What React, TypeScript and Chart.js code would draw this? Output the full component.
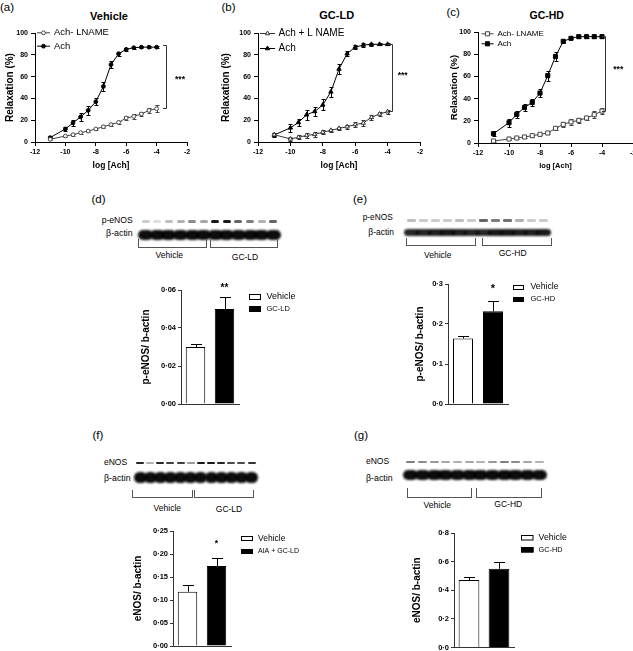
import React, { useEffect, useRef } from "react";
import { Chart, registerables } from "chart.js";
import { drawPoint } from "chart.js/helpers";

Chart.register(...registerables);

const FONT = "'Liberation Sans', Arial, Helvetica, sans-serif";

// ---------- concentration-response data (a)-(c) ----------
const logAch = [-11, -10, -9.5, -9, -8.5, -8, -7.5, -7, -6.5, -6, -5.5, -5, -4.5, -4];
const xTicks = [-12, -10, -8, -6, -4, -2];
const relaxTicks = [0, 20, 40, 60, 80, 100];

// (a) Vehicle
const vehAch = [4, 12, 17.5, 23, 29, 37, 51, 71, 81, 85, 86.5, 87, 87, 87];
const vehAchSem = [1, 2, 2.7, 3.4, 3.8, 3.5, 4, 3, 2, 1.5, 1, 1, 1, 1];
const vehLname = [2.5, 5.5, 6.7, 8.6, 10, 12, 14, 16, 18, 22, 23.5, 25.7, 29, 30.5];
const vehLnameSem = [1, 1, 1, 1, 1, 1, 1.5, 1.5, 1.5, 1.5, 2, 2, 2.5, 3];

// (b) GC-LD
const ldAch = [6.4, 13, 18, 25, 28, 34, 46, 67, 81, 87, 89, 89.6, 89.6, 89.6];
const ldAchSem = [2, 3.5, 3.5, 4.5, 4.5, 5, 4.3, 4.5, 2.5, 2, 1.5, 1.5, 1, 1];
const ldLname = [6.7, 2.8, 4.3, 6, 7, 9, 10.7, 12.5, 14, 16, 17.4, 22.6, 25.7, 27.8];
const ldLnameSem = [1.5, 2, 2, 2.5, 2, 2, 1.5, 1.5, 2, 2.5, 2.5, 2, 2, 2];

// (c) GC-HD
const hdAch = [8.4, 18.3, 25.8, 32, 36.6, 45, 60.7, 78, 91.6, 94.3, 95.8, 95.8, 95.8, 95.8];
const hdAchSem = [2.4, 3.5, 3.3, 3, 3.4, 3.8, 4.5, 3.8, 1.5, 1, 1, 1, 1, 1];
const hdLname = [1.8, 3.6, 4.5, 5.4, 6.6, 7.8, 9, 13.2, 16.8, 19, 20.4, 22.5, 25.5, 28.8];
const hdLnameSem = [1, 1, 1, 1, 1, 1, 1, 1.5, 2, 2.5, 2.5, 2, 3, 3];

// ---------- densitometry data (d)-(g) ----------
const groupsD = ["Vehicle", "GC-LD"];
const peNosLD = [0.03, 0.05];
const peNosLDSem = [0.0015, 0.0065];
const ticksD = [0, 0.02, 0.04, 0.06];

const groupsE = ["Vehicle", "GC-HD"];
const peNosHD = [0.164, 0.232];
const peNosHDSem = [0.007, 0.025];
const ticksE = [0, 0.1, 0.2, 0.3];

const groupsF = ["Vehicle", "AIA + GC-LD"];
const eNosLD = [0.118, 0.174];
const eNosLDSem = [0.014, 0.018];
const ticksF = [0, 0.05, 0.1, 0.15, 0.2, 0.25];

const groupsG = ["Vehicle", "GC-HD"];
const eNosHD = [0.471, 0.55];
const eNosHDSem = [0.021, 0.044];
const ticksG = [0, 0.2, 0.4, 0.6, 0.8];

// blot lane intensities (12 lanes each)
const blotDpEnos = [0.2, 0.12, 0.25, 0.3, 0.45, 0.35, 0.9, 0.9, 0.6, 0.5, 0.3, 0.6];
const blotEpEnos = [0.25, 0.2, 0.2, 0.2, 0.25, 0.2, 0.6, 0.5, 0.55, 0.3, 0.2, 0.2];
const blotFEnos = [0.85, 0.3, 0.85, 0.75, 0.75, 0.4, 0.9, 0.9, 0.85, 0.7, 0.7, 0.8];
const blotGEnos = [0.5, 0.45, 0.4, 0.35, 0.3, 0.35, 0.3, 0.4, 0.5, 0.45, 0.35, 0.3];
// β-actin lane intensities
const actinD = [0.95, 0.95, 0.95, 0.95, 0.95, 0.95, 0.95, 0.95, 0.95, 0.95, 0.95, 0.95];
const actinE = [0.85, 0.85, 0.88, 0.9, 0.88, 0.85, 0.85, 0.9, 0.9, 0.88, 0.88, 0.9];
const actinF = [0.95, 0.95, 0.95, 0.95, 0.95, 0.95, 0.95, 0.95, 0.95, 0.95, 0.95, 0.95];
const actinG = [0.95, 0.95, 0.95, 0.95, 0.95, 0.95, 0.95, 0.95, 0.95, 0.95, 0.95, 0.95];

const fmt = (v: number, d: number) => Number(v).toFixed(d).replace(".", "\u00B7");

// ---------- plugins ----------
function drawErrors(chart: any, after: boolean) {
  const { ctx } = chart;
  const ys = chart.scales.y;
  chart.data.datasets.forEach((ds: any, i: number) => {
    if (!ds.errors || !!ds.errAfter !== after) return;
    const meta = chart.getDatasetMeta(i);
    ctx.save();
    ctx.strokeStyle = ds.errColor || "#000";
    ctx.lineWidth = 1;
    meta.data.forEach((el: any, j: number) => {
      const raw = ds.data[j];
      const v = typeof raw === "number" ? raw : raw.y;
      const e = ds.errors[j];
      const x = Math.round(el.x) + 0.5;
      const yTop = Math.round(ys.getPixelForValue(v + e)) + 0.5;
      const yBot = ds.errUpOnly ? ys.getPixelForValue(v) : Math.round(ys.getPixelForValue(v - e)) + 0.5;
      const cap = ds.errCap ?? 4;
      ctx.beginPath();
      ctx.moveTo(x, yTop);
      ctx.lineTo(x, yBot);
      ctx.moveTo(x - cap / 2, yTop);
      ctx.lineTo(x + cap / 2, yTop);
      if (!ds.errUpOnly) {
        ctx.moveTo(x - cap / 2, yBot);
        ctx.lineTo(x + cap / 2, yBot);
      }
      ctx.stroke();
    });
    ctx.restore();
  });
}

const errPlugin = {
  id: "errBars",
  beforeDatasetsDraw(chart: any) {
    drawErrors(chart, false);
  },
  afterDatasetsDraw(chart: any) {
    drawErrors(chart, true);
  },
};

function makeLineLegend(L: any) {
  return {
    id: "lineLegend",
    afterDraw(chart: any) {
      const { ctx, chartArea } = chart;
      ctx.save();
      chart.data.datasets.forEach((ds: any, i: number) => {
        const x0 = chartArea.left + L.dx;
        const y = chartArea.top + L.dy + i * L.gap;
        ctx.strokeStyle = ds.borderColor;
        ctx.lineWidth = 1;
        ctx.beginPath();
        ctx.moveTo(x0, y + 0.5);
        ctx.lineTo(x0 + L.lineLen, y + 0.5);
        ctx.stroke();
        ctx.fillStyle = ds.pointBackgroundColor;
        ctx.strokeStyle = ds.pointBorderColor;
        drawPoint(ctx, { pointStyle: ds.pointStyle, radius: ds.pointRadius, rotation: 0, borderWidth: 1 } as any, x0 + L.lineLen / 2, y + 0.5);
        ctx.fillStyle = "#000";
        ctx.font = `${L.size}px ${FONT}`;
        ctx.textBaseline = "middle";
        ctx.textAlign = "left";
        ctx.fillText(ds.label, x0 + L.lineLen + L.textGap, y + 0.5);
      });
      ctx.restore();
    },
  };
}

function makeSig(S: any) {
  return {
    id: "sig",
    afterDraw(chart: any) {
      const { ctx } = chart;
      const xs = chart.scales.x;
      const ys = chart.scales.y;
      ctx.save();
      ctx.strokeStyle = "#333";
      ctx.lineWidth = 1;
      ctx.fillStyle = "#000";
      if (S.bracket) {
        const b = S.bracket;
        const bx = Math.round(xs.getPixelForValue(b.x)) + 0.5;
        const sx = xs.getPixelForValue(b.stubX);
        const yt = Math.round(ys.getPixelForValue(b.top)) + 0.5;
        const yb = Math.round(ys.getPixelForValue(b.bottom)) + 0.5;
        ctx.beginPath();
        ctx.moveTo(sx, yt);
        ctx.lineTo(bx, yt);
        ctx.lineTo(bx, yb);
        ctx.lineTo(sx, yb);
        ctx.stroke();
      }
      ctx.font = `bold ${S.size}px ${FONT}`;
      ctx.textAlign = "center";
      ctx.textBaseline = "middle";
      (S.stars || []).forEach((st: any) => {
        ctx.fillText(st.text, xs.getPixelForValue(st.x), ys.getPixelForValue(st.y));
      });
      ctx.restore();
    },
  };
}

function makeBarLegend(L: any, labels: string[], colors: string[]) {
  return {
    id: "barLegend",
    afterDraw(chart: any) {
      const { ctx, chartArea } = chart;
      ctx.save();
      labels.forEach((lab, i) => {
        const x = Math.round(chartArea.right + L.dx);
        const y = chartArea.top + L.dy + i * L.gap;
        const top = Math.round(y - L.boxH / 2);
        ctx.fillStyle = colors[i];
        ctx.fillRect(x, top, L.boxW, L.boxH);
        ctx.strokeStyle = "#000";
        ctx.lineWidth = 1;
        ctx.strokeRect(x + 0.5, top + 0.5, L.boxW - 1, L.boxH - 1);
        ctx.fillStyle = "#000";
        ctx.font = `${L.sizes[i]}px ${FONT}`;
        ctx.textBaseline = "middle";
        ctx.textAlign = "left";
        ctx.fillText(lab, x + L.boxW + L.textGap, y);
      });
      ctx.restore();
    },
  };
}

// ---------- builders ----------
type Geo = { yW: number; xH: number; padTop: number; padRight: number };

function buildLine(p: any) {
  return (g: Geo) => ({
    type: "line",
    data: {
      datasets: p.series.map((s: any) => ({
        label: s.label,
        data: logAch.map((x, i) => ({ x, y: s.y[i] })),
        errors: s.err,
        errColor: s.stroke,
        errCap: 4,
        borderColor: s.stroke,
        borderWidth: 1,
        pointStyle: s.style,
        pointRadius: s.radius,
        pointBackgroundColor: s.fill,
        pointBorderColor: s.stroke,
        pointBorderWidth: 1,
        tension: 0,
        fill: false,
      })),
    },
    options: {
      responsive: false,
      animation: false,
      devicePixelRatio: 1,
      layout: { padding: { top: g.padTop, right: g.padRight, left: 0, bottom: 0 } },
      plugins: { legend: { display: false }, tooltip: { enabled: false } },
      scales: {
        x: {
          type: "linear",
          min: -12,
          max: -2,
          afterBuildTicks: (s: any) => {
            s.ticks = xTicks.map((v) => ({ value: v }));
          },
          afterFit: (s: any) => {
            s.height = g.xH;
          },
          ticks: { autoSkip: false, maxRotation: 0, padding: 2, color: "#000", font: { family: FONT, size: p.fonts.tick, weight: "bold" } },
          grid: { drawOnChartArea: false, drawTicks: true, tickLength: 4, color: "#000" },
          border: { color: "#000", width: 1 },
          title: { display: true, text: "log [Ach]", color: "#000", padding: 0, font: { family: FONT, size: p.fonts.xTitle, weight: "bold" } },
        },
        y: {
          type: "linear",
          min: 0,
          max: 100,
          afterBuildTicks: (s: any) => {
            s.ticks = relaxTicks.map((v) => ({ value: v }));
          },
          afterFit: (s: any) => {
            s.width = g.yW;
          },
          ticks: { padding: 3, color: "#000", font: { family: FONT, size: p.fonts.tick, weight: "bold" } },
          grid: { drawOnChartArea: false, drawTicks: true, tickLength: 4, color: "#000" },
          border: { color: "#000", width: 1 },
          title: { display: true, text: "Relaxation (%)", color: "#000", padding: 0, font: { family: FONT, size: p.fonts.yTitle, weight: "bold" } },
        },
      },
    },
    plugins: [errPlugin, makeLineLegend(p.legend), makeSig(p.sig)],
  });
}

function buildBar(p: any) {
  return (g: Geo) => ({
    type: "bar",
    data: {
      labels: p.groups,
      datasets: [
        {
          label: p.yTitle,
          data: p.values,
          errors: p.sem,
          errUpOnly: true,
          errAfter: true,
          errCap: 11,
          errColor: "#000",
          backgroundColor: ["#ffffff", "#000000"],
          borderColor: "#000",
          borderWidth: 1,
          barPercentage: p.barPct,
          categoryPercentage: 1,
        },
      ],
    },
    options: {
      responsive: false,
      animation: false,
      devicePixelRatio: 1,
      layout: { padding: { top: g.padTop, right: g.padRight, left: 0, bottom: 0 } },
      plugins: { legend: { display: false }, tooltip: { enabled: false } },
      scales: {
        x: {
          ticks: { display: false },
          grid: { drawOnChartArea: false, drawTicks: false },
          border: { color: "#333", width: 1 },
          afterFit: (s: any) => {
            s.height = g.xH;
          },
        },
        y: {
          min: 0,
          max: p.ticks[p.ticks.length - 1],
          afterBuildTicks: (s: any) => {
            s.ticks = p.ticks.map((v: number) => ({ value: v }));
          },
          afterFit: (s: any) => {
            s.width = g.yW;
          },
          ticks: { padding: 2, color: "#000", callback: (v: any) => fmt(v, p.dec), font: { family: FONT, size: 7.5, weight: "bold" } },
          grid: { drawOnChartArea: false, drawTicks: true, tickLength: 3, color: "#333" },
          border: { color: "#333", width: 1 },
          title: { display: true, text: p.yTitle, color: "#000", padding: 0, font: { family: FONT, size: 10, weight: "bold" } },
        },
      },
    },
    plugins: [errPlugin, makeBarLegend(p.legend, p.groups, ["#ffffff", "#000000"]), makeSig(p.sig)],
  });
}

// ---------- panel specs ----------
const panelA = {
  series: [
    { label: "Ach- LNAME", y: vehLname, err: vehLnameSem, style: "circle", radius: 1.9, fill: "#fff", stroke: "#444" },
    { label: "Ach", y: vehAch, err: vehAchSem, style: "circle", radius: 1.9, fill: "#000", stroke: "#000" },
  ],
  fonts: { tick: 7, yTitle: 10, xTitle: 8.5 },
  legend: { dx: 2, dy: -0.7, gap: 13.4, lineLen: 13, textGap: 4, size: 9.5 },
  sig: { bracket: { x: -3.38, stubX: -3.58, top: 89, bottom: 31 }, stars: [{ x: -2.46, y: 57, text: "***" }], size: 8.5 },
};
const panelB = {
  series: [
    { label: "Ach + L NAME", y: ldLname, err: ldLnameSem, style: "triangle", radius: 2.5, fill: "#fff", stroke: "#333" },
    { label: "Ach", y: ldAch, err: ldAchSem, style: "triangle", radius: 2.5, fill: "#000", stroke: "#000" },
  ],
  fonts: { tick: 7, yTitle: 10, xTitle: 8.5 },
  legend: { dx: 2, dy: 0, gap: 15, lineLen: 15, textGap: 3.5, size: 10 },
  sig: { bracket: { x: -3.75, stubX: -4, top: 90, bottom: 28 }, stars: [{ x: -3.07, y: 60.5, text: "***" }], size: 8.5 },
};
const panelC = {
  series: [
    { label: "Ach- LNAME", y: hdLname, err: hdLnameSem, style: "rect", radius: 2.9, fill: "#fff", stroke: "#444" },
    { label: "Ach", y: hdAch, err: hdAchSem, style: "rect", radius: 2.9, fill: "#000", stroke: "#000" },
  ],
  fonts: { tick: 7, yTitle: 9.5, xTitle: 7.5 },
  legend: { dx: 3.5, dy: 1.3, gap: 10, lineLen: 12, textGap: 4, size: 8 },
  sig: { bracket: { x: -3.79, stubX: -4, top: 96, bottom: 28.5 }, stars: [{ x: -2.95, y: 66, text: "***" }], size: 8.5 },
};

const panelD = {
  groups: groupsD, values: peNosLD, sem: peNosLDSem, ticks: ticksD, dec: 2, barPct: 0.67,
  yTitle: "p-eNOS/ b-actin",
  legend: { dx: 10, dy: 7, gap: 12, boxW: 12, boxH: 6, textGap: 5.5, sizes: [9, 7.5] },
  sig: { stars: [{ x: 1, y: 0.061, text: "**" }], size: 10 },
};
const panelE = {
  groups: groupsE, values: peNosHD, sem: peNosHDSem, ticks: ticksE, dec: 1, barPct: 0.667,
  yTitle: "p-eNOS/ b-actin",
  legend: { dx: 4.7, dy: 3, gap: 12, boxW: 11, boxH: 5, textGap: 6.5, sizes: [8.7, 7.5] },
  sig: { stars: [{ x: 1, y: 0.288, text: "*" }], size: 11 },
};
const panelF = {
  groups: groupsF, values: eNosLD, sem: eNosLDSem, ticks: ticksF, dec: 2, barPct: 0.67,
  yTitle: "eNOS/ b-actin",
  legend: { dx: 9.7, dy: 7.7, gap: 12.3, boxW: 12, boxH: 5, textGap: 5, sizes: [8.5, 7] },
  sig: { stars: [{ x: 1, y: 0.2224, text: "*" }], size: 8.5 },
};
const panelG = {
  groups: groupsG, values: eNosHD, sem: eNosHDSem, ticks: ticksG, dec: 1, barPct: 0.69,
  yTitle: "eNOS/ b-actin",
  legend: { dx: 6.7, dy: 4.7, gap: 12, boxW: 12.5, boxH: 5.5, textGap: 5, sizes: [8.8, 7.3] },
  sig: { stars: [], size: 10 },
};

// ---------- components ----------
function ChartBox({ area, yW, xH, padTop, padRight, build }: any) {
  const ref = useRef<HTMLCanvasElement>(null);
  const left = area.l - yW;
  const top = area.t - padTop;
  const width = area.r - area.l + yW + padRight;
  const height = area.b - area.t + padTop + xH;
  useEffect(() => {
    const cfg = build({ yW, xH, padTop, padRight });
    const ch = new Chart(ref.current as HTMLCanvasElement, cfg as any);
    return () => ch.destroy();
  }, []);
  return (
    <canvas
      ref={ref}
      width={width}
      height={height}
      style={{ position: "absolute", left, top, width, height }}
    />
  );
}

function T({ x, y, s, b, a = "l", children }: any) {
  const tx = a === "c" ? "-50%" : a === "r" ? "-100%" : "0";
  return (
    <div
      style={{
        position: "absolute",
        left: x,
        top: y,
        transform: `translate(${tx}, -50%)`,
        fontSize: s,
        fontWeight: b ? "bold" : "normal",
        fontFamily: FONT,
        color: "#000",
        whiteSpace: "nowrap",
        lineHeight: 1,
      }}
    >
      {children}
    </div>
  );
}

function Lanes({ x0, x1, y, h, w, vals, blur = 0.5 }: any) {
  const n = vals.length;
  const step = (x1 - x0) / n;
  return (
    <>
      {vals.map((v: number, i: number) => (
        <div
          key={i}
          style={{
            position: "absolute",
            left: x0 + (i + 0.5) * step - w / 2,
            top: y - h / 2,
            width: w,
            height: h,
            background: `rgba(0,0,0,${v})`,
            borderRadius: h / 2,
            filter: `blur(${blur}px)`,
          }}
        />
      ))}
    </>
  );
}

function Bracket({ x0, x1, y0, y1 }: any) {
  return (
    <div
      style={{
        position: "absolute",
        left: x0,
        top: y0,
        width: x1 - x0,
        height: y1 - y0,
        borderLeft: "1px solid #555",
        borderRight: "1px solid #555",
        borderBottom: "1px solid #555",
        boxSizing: "border-box",
      }}
    />
  );
}

export default function App() {
  return (
    <div
      style={{
        position: "absolute",
        left: 0,
        top: 0,
        width: 633,
        height: 651,
        overflow: "hidden",
        background: "#fff",
        fontFamily: FONT,
      }}
    >
      {/* panel letters */}
      <T x={0} y={7.5} s={11.5}>(a)</T>
      <T x={221.5} y={7.5} s={11.5}>(b)</T>
      <T x={446.5} y={13} s={11.5}>(c)</T>
      <T x={91.5} y={200} s={11.5}>(d)</T>
      <T x={353} y={200} s={11.5}>(e)</T>
      <T x={92.5} y={436} s={11.5}>(f)</T>
      <T x={354} y={436} s={11.5}>(g)</T>

      {/* titles */}
      <T x={109} y={15.5} s={11} b a="c">Vehicle</T>
      <T x={336.7} y={15} s={11} b a="c">GC-LD</T>
      <T x={546.7} y={15} s={10.5} b a="c">GC-HD</T>

      <ChartBox area={{ l: 35, t: 33, r: 187, b: 142 }} yW={31} xH={29} padTop={8} padRight={8} build={buildLine(panelA)} />
      <ChartBox area={{ l: 258, t: 33, r: 420, b: 142 }} yW={38} xH={29} padTop={8} padRight={8} build={buildLine(panelB)} />
      <ChartBox area={{ l: 478, t: 32, r: 633, b: 143 }} yW={29} xH={27} padTop={8} padRight={8} build={buildLine(panelC)} />

      {/* (d) blot */}
      <T x={132.7} y={220} s={8.6} a="r">p-eNOS</T>
      <T x={132.7} y={233} s={8.8} a="r">β-actin</T>
      <Lanes x0={140} x1={279} y={221} h={3} w={8} vals={blotDpEnos} />
      <Lanes x0={140} x1={279} y={235} h={10} w={15} vals={actinD} blur={0.8} />
      <Bracket x0={137.7} x1={207.3} y0={239} y1={248} />
      <Bracket x0={210} x1={277.7} y0={239} y1={248} />
      <T x={169.3} y={255} s={8.5} a="c">Vehicle</T>
      <T x={245} y={257} s={8.5} a="c">GC-LD</T>

      {/* (e) blot */}
      <T x={392.7} y={216.7} s={8.3} a="r">p-eNOS</T>
      <T x={394} y={231.7} s={8.5} a="r">β-actin</T>
      <Lanes x0={405} x1={550} y={220.7} h={2.5} w={9} vals={blotEpEnos} />
      <Lanes x0={405} x1={550} y={232.5} h={7.5} w={15} vals={actinE} blur={0.8} />
      <Bracket x0={406} x1={475.7} y0={238} y1={246} />
      <Bracket x0={481.7} x1={552} y0={238} y1={246} />
      <T x={437.7} y={255} s={8.5} a="c">Vehicle</T>
      <T x={512.7} y={253} s={8.5} a="c">GC-HD</T>

      <ChartBox area={{ l: 181, t: 290, r: 239, b: 404 }} yW={41} xH={8} padTop={10} padRight={80} build={buildBar(panelD)} />
      <ChartBox area={{ l: 448, t: 284, r: 508, b: 404 }} yW={34} xH={8} padTop={10} padRight={75} build={buildBar(panelE)} />

      {/* (f) blot */}
      <T x={104} y={461.7} s={8.5}>eNOS</T>
      <T x={104} y={477.7} s={8.8}>β-actin</T>
      <Lanes x0={135} x1={256.7} y={463} h={2.5} w={8} vals={blotFEnos} />
      <Lanes x0={135} x1={256.7} y={477.7} h={10.5} w={13} vals={actinF} blur={0.8} />
      <Bracket x0={131.7} x1={192.7} y0={490} y1={498.3} />
      <Bracket x0={194.3} x1={254} y0={490} y1={498.3} />
      <T x={167.3} y={507.7} s={8.5} a="c">Vehicle</T>
      <T x={229} y={509.3} s={8.5} a="c">GC-LD</T>

      {/* (g) blot */}
      <T x={366} y={461} s={8.5}>eNOS</T>
      <T x={366} y={477.7} s={8.8}>β-actin</T>
      <Lanes x0={405} x1={545} y={461.7} h={2} w={9} vals={blotGEnos} />
      <Lanes x0={405} x1={545} y={475.2} h={10.5} w={15} vals={actinG} blur={0.8} />
      <Bracket x0={407} x1={471.7} y0={488.3} y1={498.3} />
      <Bracket x0={475.7} x1={542.3} y0={488.3} y1={498.3} />
      <T x={437.3} y={505} s={8.5} a="c">Vehicle</T>
      <T x={508.3} y={504.3} s={8.5} a="c">GC-HD</T>

      <ChartBox area={{ l: 173, t: 531, r: 231, b: 646 }} yW={41} xH={8} padTop={10} padRight={85} build={buildBar(panelF)} />
      <ChartBox area={{ l: 454, t: 533, r: 514, b: 648 }} yW={43} xH={6} padTop={10} padRight={75} build={buildBar(panelG)} />
    </div>
  );
}
